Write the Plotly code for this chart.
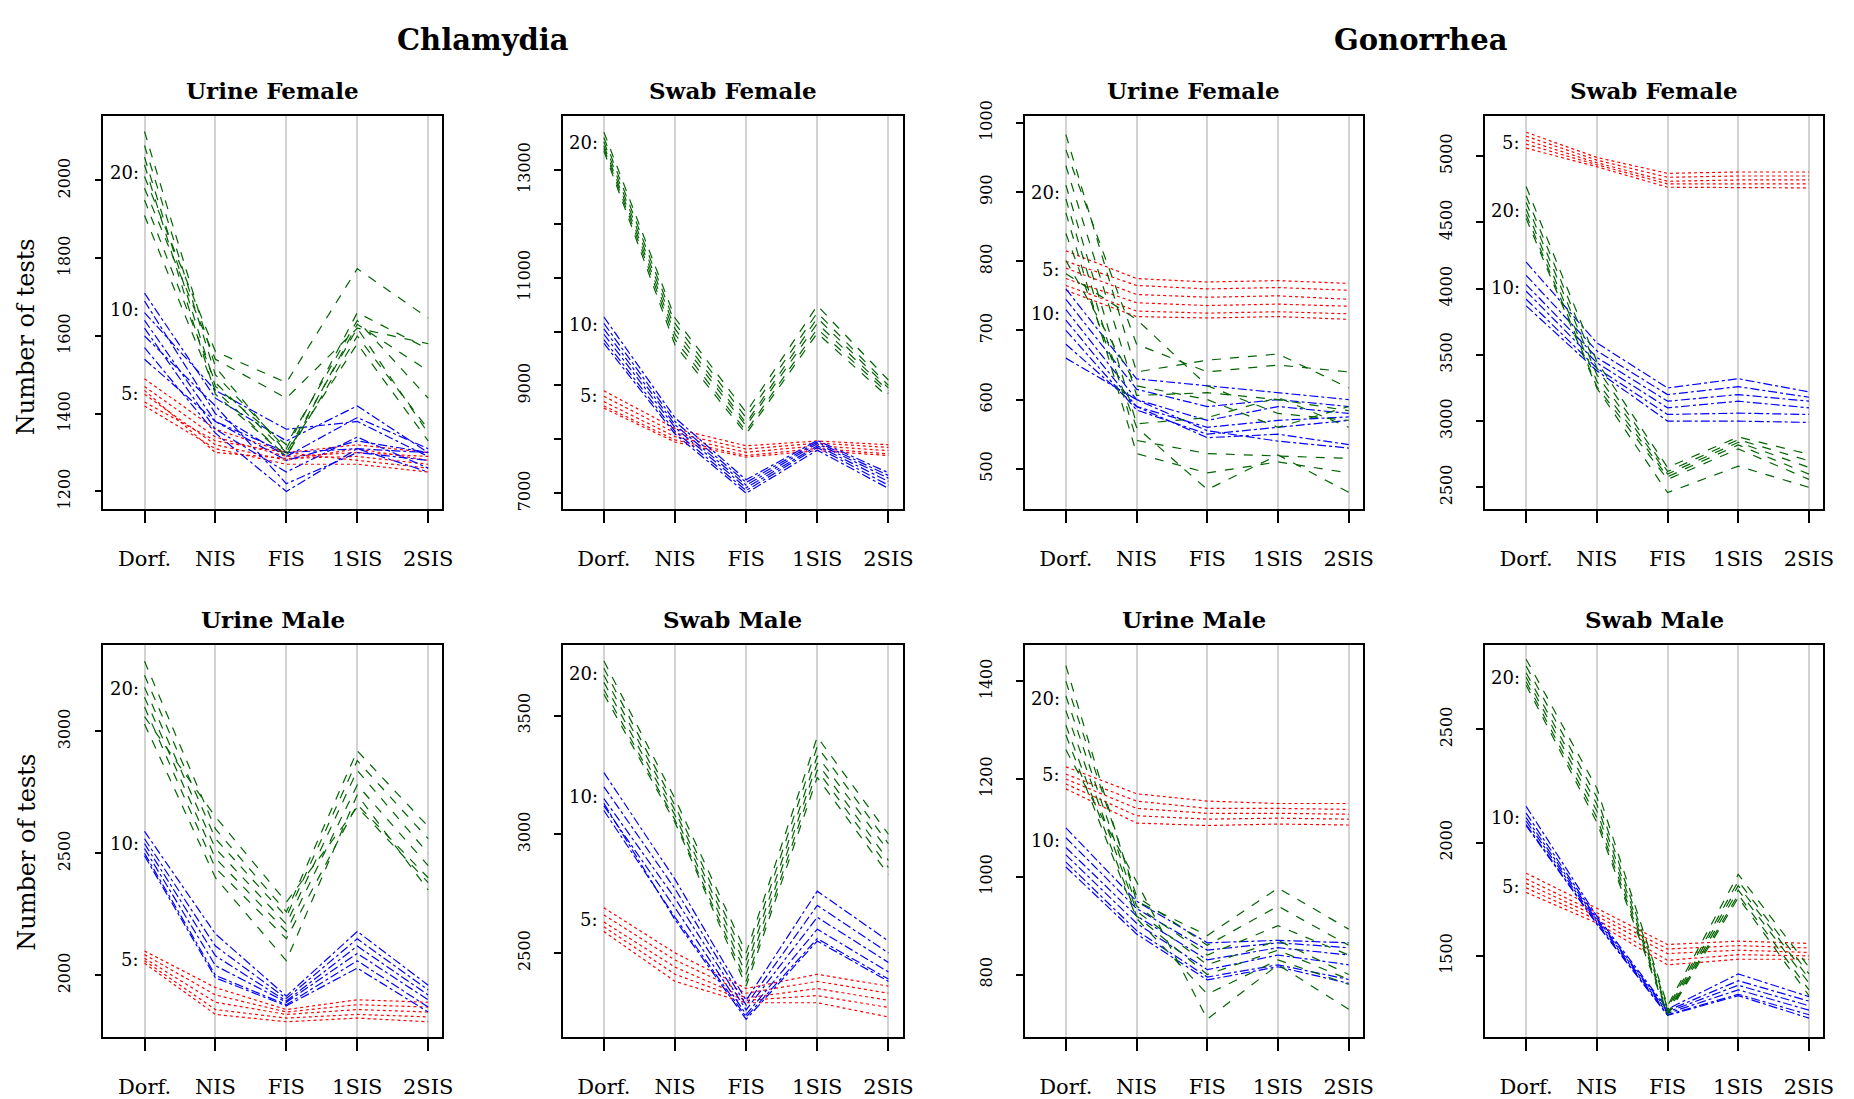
import plotly.graph_objects as go

W, H = 1854, 1099

categories = ["Dorf.", "NIS", "FIS", "1SIS", "2SIS"]
xpos = [1, 2, 3, 4, 5]

# ---------------- Chlamydia, Urine Female ----------------
chl_uf_5 = [[1490, 1360, 1300, 1320, 1300], [1470, 1340, 1290, 1300, 1290],
            [1450, 1320, 1280, 1310, 1280], [1430, 1330, 1300, 1280, 1260],
            [1420, 1310, 1270, 1270, 1250], [1460, 1300, 1285, 1290, 1270]]
chl_uf_10 = [[1710, 1440, 1330, 1420, 1300], [1690, 1400, 1290, 1390, 1310],
             [1660, 1460, 1360, 1380, 1290], [1640, 1380, 1300, 1310, 1300],
             [1620, 1360, 1250, 1340, 1260], [1600, 1420, 1220, 1300, 1280],
             [1570, 1350, 1200, 1310, 1250], [1540, 1380, 1280, 1330, 1300]]
chl_uf_20 = [[2126, 1520, 1300, 1620, 1350], [2090, 1500, 1310, 1660, 1566],
             [2060, 1470, 1320, 1640, 1440], [2040, 1450, 1290, 1600, 1360],
             [2010, 1560, 1480, 1773, 1646], [1980, 1540, 1440, 1620, 1580],
             [1950, 1480, 1300, 1580, 1330], [1910, 1460, 1290, 1630, 1510]]
chl_uf_lab = [1453, 1667, 2021]

# ---------------- Chlamydia, Swab Female ----------------
chl_sf_5 = [[8900, 8200, 7880, 7970, 7900], [8800, 8120, 7820, 7930, 7850],
            [8700, 8050, 7760, 7880, 7790], [8620, 7990, 7700, 7830, 7730],
            [8580, 7950, 7670, 7790, 7700]]
chl_sf_10 = [[10270, 8400, 7250, 7980, 7380], [10150, 8330, 7200, 7950, 7330],
             [10050, 8270, 7150, 7920, 7280], [9950, 8220, 7100, 7880, 7220],
             [9850, 8150, 7050, 7850, 7150], [9780, 8100, 7000, 7800, 7090]]
chl_sf_20 = [[13700, 10250, 8500, 10480, 9100], [13600, 10150, 8400, 10350, 9000],
             [13520, 10050, 8300, 10250, 8950], [13450, 9950, 8250, 10150, 8900],
             [13400, 9850, 8150, 10050, 8850], [13350, 9750, 8100, 9970, 8780]]
chl_sf_lab = [8818, 10122, 13515]

# ---------------- Gonorrhea, Urine Female ----------------
gon_uf_5 = [[815, 775, 770, 772, 768], [800, 765, 760, 762, 758],
            [790, 752, 748, 750, 745], [775, 740, 736, 738, 735],
            [765, 728, 725, 727, 724], [758, 720, 718, 720, 716]]
gon_uf_10 = [[760, 630, 620, 610, 600], [745, 615, 590, 600, 590],
             [730, 600, 570, 590, 580], [715, 590, 560, 570, 575],
             [700, 585, 550, 560, 570], [680, 590, 545, 550, 535],
             [660, 600, 555, 540, 530]]
gon_uf_20 = [[983, 640, 657, 666, 617], [961, 680, 640, 650, 640],
             [938, 606, 610, 600, 584], [910, 565, 574, 603, 560],
             [890, 541, 522, 518, 515], [870, 522, 494, 510, 494],
             [840, 560, 470, 520, 466], [801, 620, 600, 560, 590],
             [782, 716, 620, 580, 570]]
gon_uf_lab = [788, 725, 900]

# ---------------- Gonorrhea, Swab Female ----------------
gon_sf_5 = [[5180, 4990, 4870, 4880, 4880], [5150, 4970, 4840, 4850, 4850],
            [5120, 4950, 4810, 4820, 4820], [5090, 4935, 4790, 4790, 4790],
            [5060, 4920, 4765, 4765, 4760]]
gon_sf_10 = [[4200, 3590, 3250, 3320, 3220], [4100, 3530, 3200, 3260, 3180],
             [4030, 3480, 3150, 3200, 3150], [3980, 3440, 3100, 3150, 3100],
             [3920, 3400, 3050, 3060, 3050], [3870, 3380, 3000, 3000, 2990]]
gon_sf_20 = [[4770, 3450, 2650, 2880, 2750], [4700, 3400, 2620, 2860, 2700],
             [4650, 3350, 2600, 2840, 2650], [4600, 3300, 2580, 2820, 2600],
             [4560, 3260, 2560, 2790, 2560], [4530, 3250, 2460, 2660, 2500]]
gon_sf_lab = [5106, 4009, 4588]

# ---------------- Chlamydia, Urine Male ----------------
chl_um_5 = [[2100, 1950, 1860, 1900, 1890], [2085, 1920, 1850, 1880, 1870],
            [2070, 1890, 1840, 1860, 1850], [2060, 1860, 1825, 1840, 1830],
            [2050, 1840, 1810, 1825, 1810]]
chl_um_10 = [[2590, 2170, 1915, 2180, 1960], [2560, 2120, 1905, 2150, 1940],
             [2540, 2080, 1895, 2120, 1920], [2520, 2040, 1890, 2090, 1900],
             [2500, 2000, 1880, 2060, 1870], [2490, 1990, 1875, 2030, 1850]]
chl_um_20 = [[3287, 2600, 2260, 2920, 2610], [3230, 2560, 2240, 2880, 2560],
             [3180, 2520, 2210, 2840, 2500], [3140, 2480, 2180, 2780, 2450],
             [3100, 2440, 2150, 2700, 2400], [3060, 2650, 2300, 2690, 2380],
             [3030, 2400, 2060, 2740, 2350]]
chl_um_lab = [2064, 2539, 3174]

# ---------------- Chlamydia, Swab Male ----------------
chl_sm_5 = [[2690, 2500, 2350, 2410, 2360], [2660, 2470, 2330, 2380, 2330],
            [2630, 2440, 2310, 2350, 2300], [2610, 2410, 2300, 2320, 2270],
            [2590, 2380, 2290, 2290, 2230]]
chl_sm_10 = [[3260, 2810, 2300, 2760, 2550], [3200, 2770, 2280, 2700, 2500],
             [3150, 2730, 2260, 2650, 2460], [3120, 2690, 2240, 2600, 2420],
             [3100, 2650, 2230, 2560, 2390], [3130, 2640, 2220, 2550, 2380]]
chl_sm_20 = [[3730, 3150, 2500, 3410, 3000], [3700, 3120, 2470, 3370, 2960],
             [3670, 3100, 2440, 3330, 2930], [3640, 3080, 2410, 3300, 2890],
             [3610, 3060, 2380, 3270, 2860], [3590, 3050, 2360, 3240, 2830]]
chl_sm_lab = [2641, 3159, 3677]

# ---------------- Gonorrhea, Urine Male ----------------
gon_um_5 = [[1225, 1170, 1155, 1150, 1150], [1210, 1155, 1140, 1140, 1138],
            [1200, 1140, 1130, 1130, 1128], [1190, 1125, 1118, 1120, 1118],
            [1180, 1110, 1105, 1108, 1106]]
gon_um_10 = [[1100, 950, 865, 870, 865], [1080, 935, 850, 865, 855],
             [1060, 920, 830, 855, 840], [1045, 905, 810, 840, 820],
             [1030, 890, 795, 820, 790], [1020, 883, 789, 816, 782]]
gon_um_20 = [[1432, 950, 880, 977, 893], [1400, 960, 860, 940, 860],
             [1370, 940, 840, 900, 840], [1340, 930, 820, 870, 800],
             [1310, 920, 800, 850, 790], [1290, 915, 760, 830, 780],
             [1260, 990, 709, 820, 729]]
gon_um_lab = [1209, 1074, 1365]

# ---------------- Gonorrhea, Swab Male ----------------
gon_sm_5 = [[1865, 1710, 1550, 1565, 1555], [1840, 1690, 1530, 1545, 1535],
            [1820, 1675, 1510, 1525, 1515], [1800, 1660, 1480, 1505, 1500],
            [1780, 1645, 1460, 1485, 1485]]
gon_sm_10 = [[2160, 1675, 1265, 1420, 1320], [2130, 1665, 1258, 1390, 1300],
             [2110, 1658, 1252, 1370, 1280], [2095, 1650, 1246, 1350, 1260],
             [2080, 1642, 1240, 1330, 1240], [2075, 1640, 1237, 1324, 1225]]
gon_sm_20 = [[2810, 2240, 1280, 1860, 1450], [2780, 2200, 1270, 1830, 1420],
             [2750, 2170, 1260, 1810, 1400], [2730, 2140, 1250, 1790, 1380],
             [2710, 2110, 1245, 1770, 1350], [2695, 2090, 1237, 1757, 1324]]
gon_sm_lab = [1807, 2110, 2731]

group_names = ["5:", "10:", "20:"]
group_colors = ["#FF0000", "#0000FF", "#006400"]
group_dash = ["dot", "dashdot", "dash"]

panel_titles = ["Urine Female", "Swab Female", "Urine Female", "Swab Female",
                "Urine Male", "Swab Male", "Urine Male", "Swab Male"]
panel_data = [
    (chl_uf_5, chl_uf_10, chl_uf_20, chl_uf_lab),
    (chl_sf_5, chl_sf_10, chl_sf_20, chl_sf_lab),
    (gon_uf_5, gon_uf_10, gon_uf_20, gon_uf_lab),
    (gon_sf_5, gon_sf_10, gon_sf_20, gon_sf_lab),
    (chl_um_5, chl_um_10, chl_um_20, chl_um_lab),
    (chl_sm_5, chl_sm_10, chl_sm_20, chl_sm_lab),
    (gon_um_5, gon_um_10, gon_um_20, gon_um_lab),
    (gon_sm_5, gon_sm_10, gon_sm_20, gon_sm_lab),
]
y_ticks = [
    [1200, 1400, 1600, 1800, 2000],
    [7000, 8000, 9000, 10000, 11000, 12000, 13000],
    [500, 600, 700, 800, 900, 1000],
    [2500, 3000, 3500, 4000, 4500, 5000],
    [2000, 2500, 3000],
    [2500, 3000, 3500],
    [800, 1000, 1200, 1400],
    [1500, 2000, 2500],
]
y_ticklabels = [
    ["1200", "1400", "1600", "1800", "2000"],
    ["7000", "", "9000", "", "11000", "", "13000"],
    ["500", "600", "700", "800", "900", "1000"],
    ["2500", "3000", "3500", "4000", "4500", "5000"],
    ["2000", "2500", "3000"],
    ["2500", "3000", "3500"],
    ["800", "1000", "1200", "1400"],
    ["1500", "2000", "2500"],
]
y_ranges = [
    [1155, 2166], [6709, 14000], [442, 1010], [2337, 5303],
    [1747, 3353], [2145, 3797], [672, 1474], [1141, 2872],
]

# layout geometry (pixels)
cols_px = [(104, 445), (566, 908), (1031, 1371), (1494, 1834)]
rows_px = [(102, 503), (642, 1042)]

FONT = "DejaVu Serif"
fig = go.Figure()
annotations = []

for i in range(8):
    r, c = divmod(i, 4)
    n = i + 1
    xa = "x" if n == 1 else f"x{n}"
    ya = "y" if n == 1 else f"y{n}"
    g5, g10, g20, labs = panel_data[i]
    for gi, grp in enumerate([g5, g10, g20]):
        for line in grp:
            fig.add_trace(go.Scatter(
                x=xpos, y=line, mode="lines", xaxis=xa, yaxis=ya,
                line=dict(color=group_colors[gi], dash=group_dash[gi], width=1.2),
                showlegend=False, hoverinfo="skip"))
        annotations.append(dict(
            x=1, y=labs[gi], xref=xa, yref=ya, text=group_names[gi],
            showarrow=False, xanchor="right", yanchor="middle", xshift=-4,
            font=dict(family=FONT, size=18, color="black")))

    x0, x1 = cols_px[c]
    y0, y1 = rows_px[r]
    axkey = "xaxis" if n == 1 else f"xaxis{n}"
    aykey = "yaxis" if n == 1 else f"yaxis{n}"
    fig.layout[axkey] = dict(
        domain=[x0 / W, x1 / W], anchor=ya, range=[0.42, 5.2],
        tickvals=xpos, ticktext=categories, ticks="outside", ticklen=12,
        tickwidth=1.5, tickcolor="black", showline=True, mirror=True,
        linecolor="black", linewidth=1.5, showgrid=True, gridcolor="#D3D3D3",
        gridwidth=1.5, zeroline=False, ticklabelstandoff=18,
        tickfont=dict(family=FONT, size=21, color="black"))
    fig.layout[aykey] = dict(
        domain=[1 - y1 / H, 1 - y0 / H], anchor=xa, range=y_ranges[i],
        tickvals=y_ticks[i], ticktext=y_ticklabels[i], ticks="outside",
        ticklen=7, tickwidth=1.5, tickcolor="black", showline=True,
        mirror=True, linecolor="black", linewidth=1.5, showgrid=False,
        zeroline=False, tickangle=-90, ticklabelstandoff=18,
        tickfont=dict(family=FONT, size=16, color="black"))
    annotations.append(dict(
        x=(x0 + x1) / 2 / W, y=1 - (y0 - 26) / H, xref="paper", yref="paper",
        text=f"<b>{panel_titles[i]}</b>", showarrow=False,
        xanchor="center", yanchor="middle",
        font=dict(family=FONT, size=23, color="black")))

# y-axis titles
for yc in [327, 853]:
    annotations.append(dict(
        x=27 / W, y=1 - yc / H, xref="paper", yref="paper",
        text="Number of tests", showarrow=False, textangle=-90,
        xanchor="center", yanchor="middle",
        font=dict(family=FONT, size=24, color="black")))

# main titles
for txt, xc in [("Chlamydia", 486), ("Gonorrhea", 1429)]:
    annotations.append(dict(
        x=xc / W, y=1 - 25 / H, xref="paper", yref="paper",
        text=f"<b>{txt}</b>", showarrow=False, xanchor="center",
        yanchor="middle", font=dict(family=FONT, size=29, color="black")))

fig.update_layout(
    width=W, height=H, margin=dict(l=0, r=0, t=0, b=0),
    paper_bgcolor="white", plot_bgcolor="white",
    annotations=annotations, showlegend=False)

fig.write_html("out.html")
